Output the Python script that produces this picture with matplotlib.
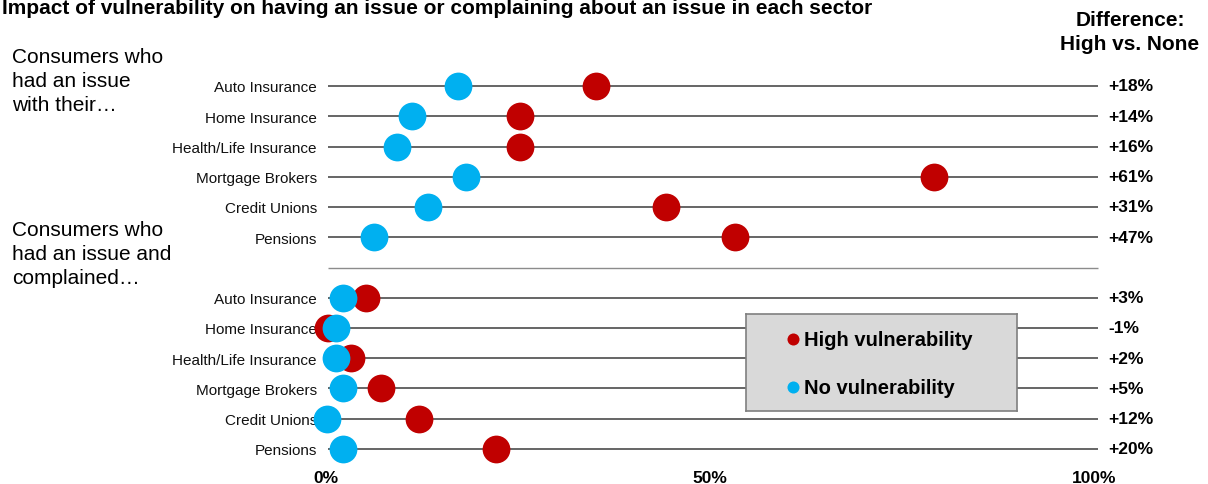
import matplotlib
matplotlib.use("Agg")
import matplotlib.pyplot as plt

plt.rcParams['font.family'] = ['Liberation Sans', 'DejaVu Sans']

sectors = ['Auto Insurance', 'Home Insurance', 'Health/Life Insurance',
           'Mortgage Brokers', 'Credit Unions', 'Pensions']

# % of consumers who had an issue
issue_high = [35.2, 25.2, 25.2, 79.2, 44.3, 53.3]
issue_none = [17.2, 11.2, 9.2, 18.2, 13.3, 6.3]

# % of consumers who had an issue and complained
complain_high = [5.2, 0.3, 3.3, 7.2, 12.1, 22.2]
complain_none = [2.2, 1.3, 1.3, 2.2, 0.1, 2.2]

xticks = [0, 50, 100]
xticklabels = ['0%', '50%', '100%']

RED = '#C00000'
BLUE = '#00B0F0'
W, H = 1208, 485

fig = plt.figure(figsize=(W / 100, H / 100), dpi=100)
ax = fig.add_axes([318.3 / W, 1 - 468.15 / H, 783.4 / W, 399.3 / H])

# rows 0-5: issue, row 6: divider, rows 7-12: complained
rows_top = list(range(len(sectors)))
rows_bot = [r + len(sectors) + 1 for r in rows_top]
rows = rows_top + rows_bot
high = issue_high + complain_high
none = issue_none + complain_none

ax.hlines(rows, 0.25, 100.5, color='#595959', lw=1.3, zorder=1)
ax.hlines(len(sectors), 0.25, 100.5, color='#8C8C8C', lw=1.0, zorder=1)

ax.scatter(high, rows, s=400, color=RED, zorder=3, clip_on=False, linewidths=0)
ax.scatter(none, rows, s=400, color=BLUE, zorder=4, clip_on=False, linewidths=0)

for r, h, n in zip(rows, high, none):
    ax.text(1.008, r, f"{round(h - n):+d}%", transform=ax.get_yaxis_transform(),
            ha='left', va='center', fontsize=12.5, fontweight='bold')

ax.set_xlim(-1, 101)
ax.set_ylim(12.6, -0.6)
ax.set_yticks(rows)
ax.set_yticklabels(sectors + sectors, fontsize=11, color='#111111')
ax.set_xticks(xticks)
ax.set_xticklabels(xticklabels, fontsize=12.5, fontweight='bold')
ax.tick_params(length=0)
ax.tick_params(axis='y', pad=1)
ax.tick_params(axis='x', pad=2)
for s in ax.spines.values():
    s.set_visible(False)

fig.text(2 / W, 1 - 14 / H,
         'Impact of vulnerability on having an issue or complaining about an issue in each sector',
         ha='left', va='baseline', fontsize=15, fontweight='bold')
fig.text(1130 / W, 1 - 11 / H, 'Difference:\nHigh vs. None', ha='center', va='top',
         fontsize=15, fontweight='bold', multialignment='center', linespacing=1.32)
fig.text(12 / W, 1 - 48 / H, 'Consumers who\nhad an issue\nwith their\u2026',
         ha='left', va='top', fontsize=15, linespacing=1.32)
fig.text(12 / W, 1 - 221 / H, 'Consumers who\nhad an issue and\ncomplained\u2026',
         ha='left', va='top', fontsize=15, linespacing=1.32)

# legend box
lax = fig.add_axes([746 / W, 1 - 412 / H, 271 / W, 97 / H], facecolor='#D9D9D9')
lax.set_xlim(0, 1)
lax.set_ylim(0, 1)
lax.set_xticks([])
lax.set_yticks([])
for s in lax.spines.values():
    s.set_color('#7F7F7F')
    s.set_linewidth(1.2)
for yy, c, lab in [(0.74, RED, 'High vulnerability'), (0.245, BLUE, 'No vulnerability')]:
    lax.scatter([0.173], [yy], s=75, color=c, linewidths=0)
    lax.text(0.215, yy, lab, ha='left', va='center', fontsize=14.5, fontweight='bold')

fig.savefig('out.png', dpi=100)
